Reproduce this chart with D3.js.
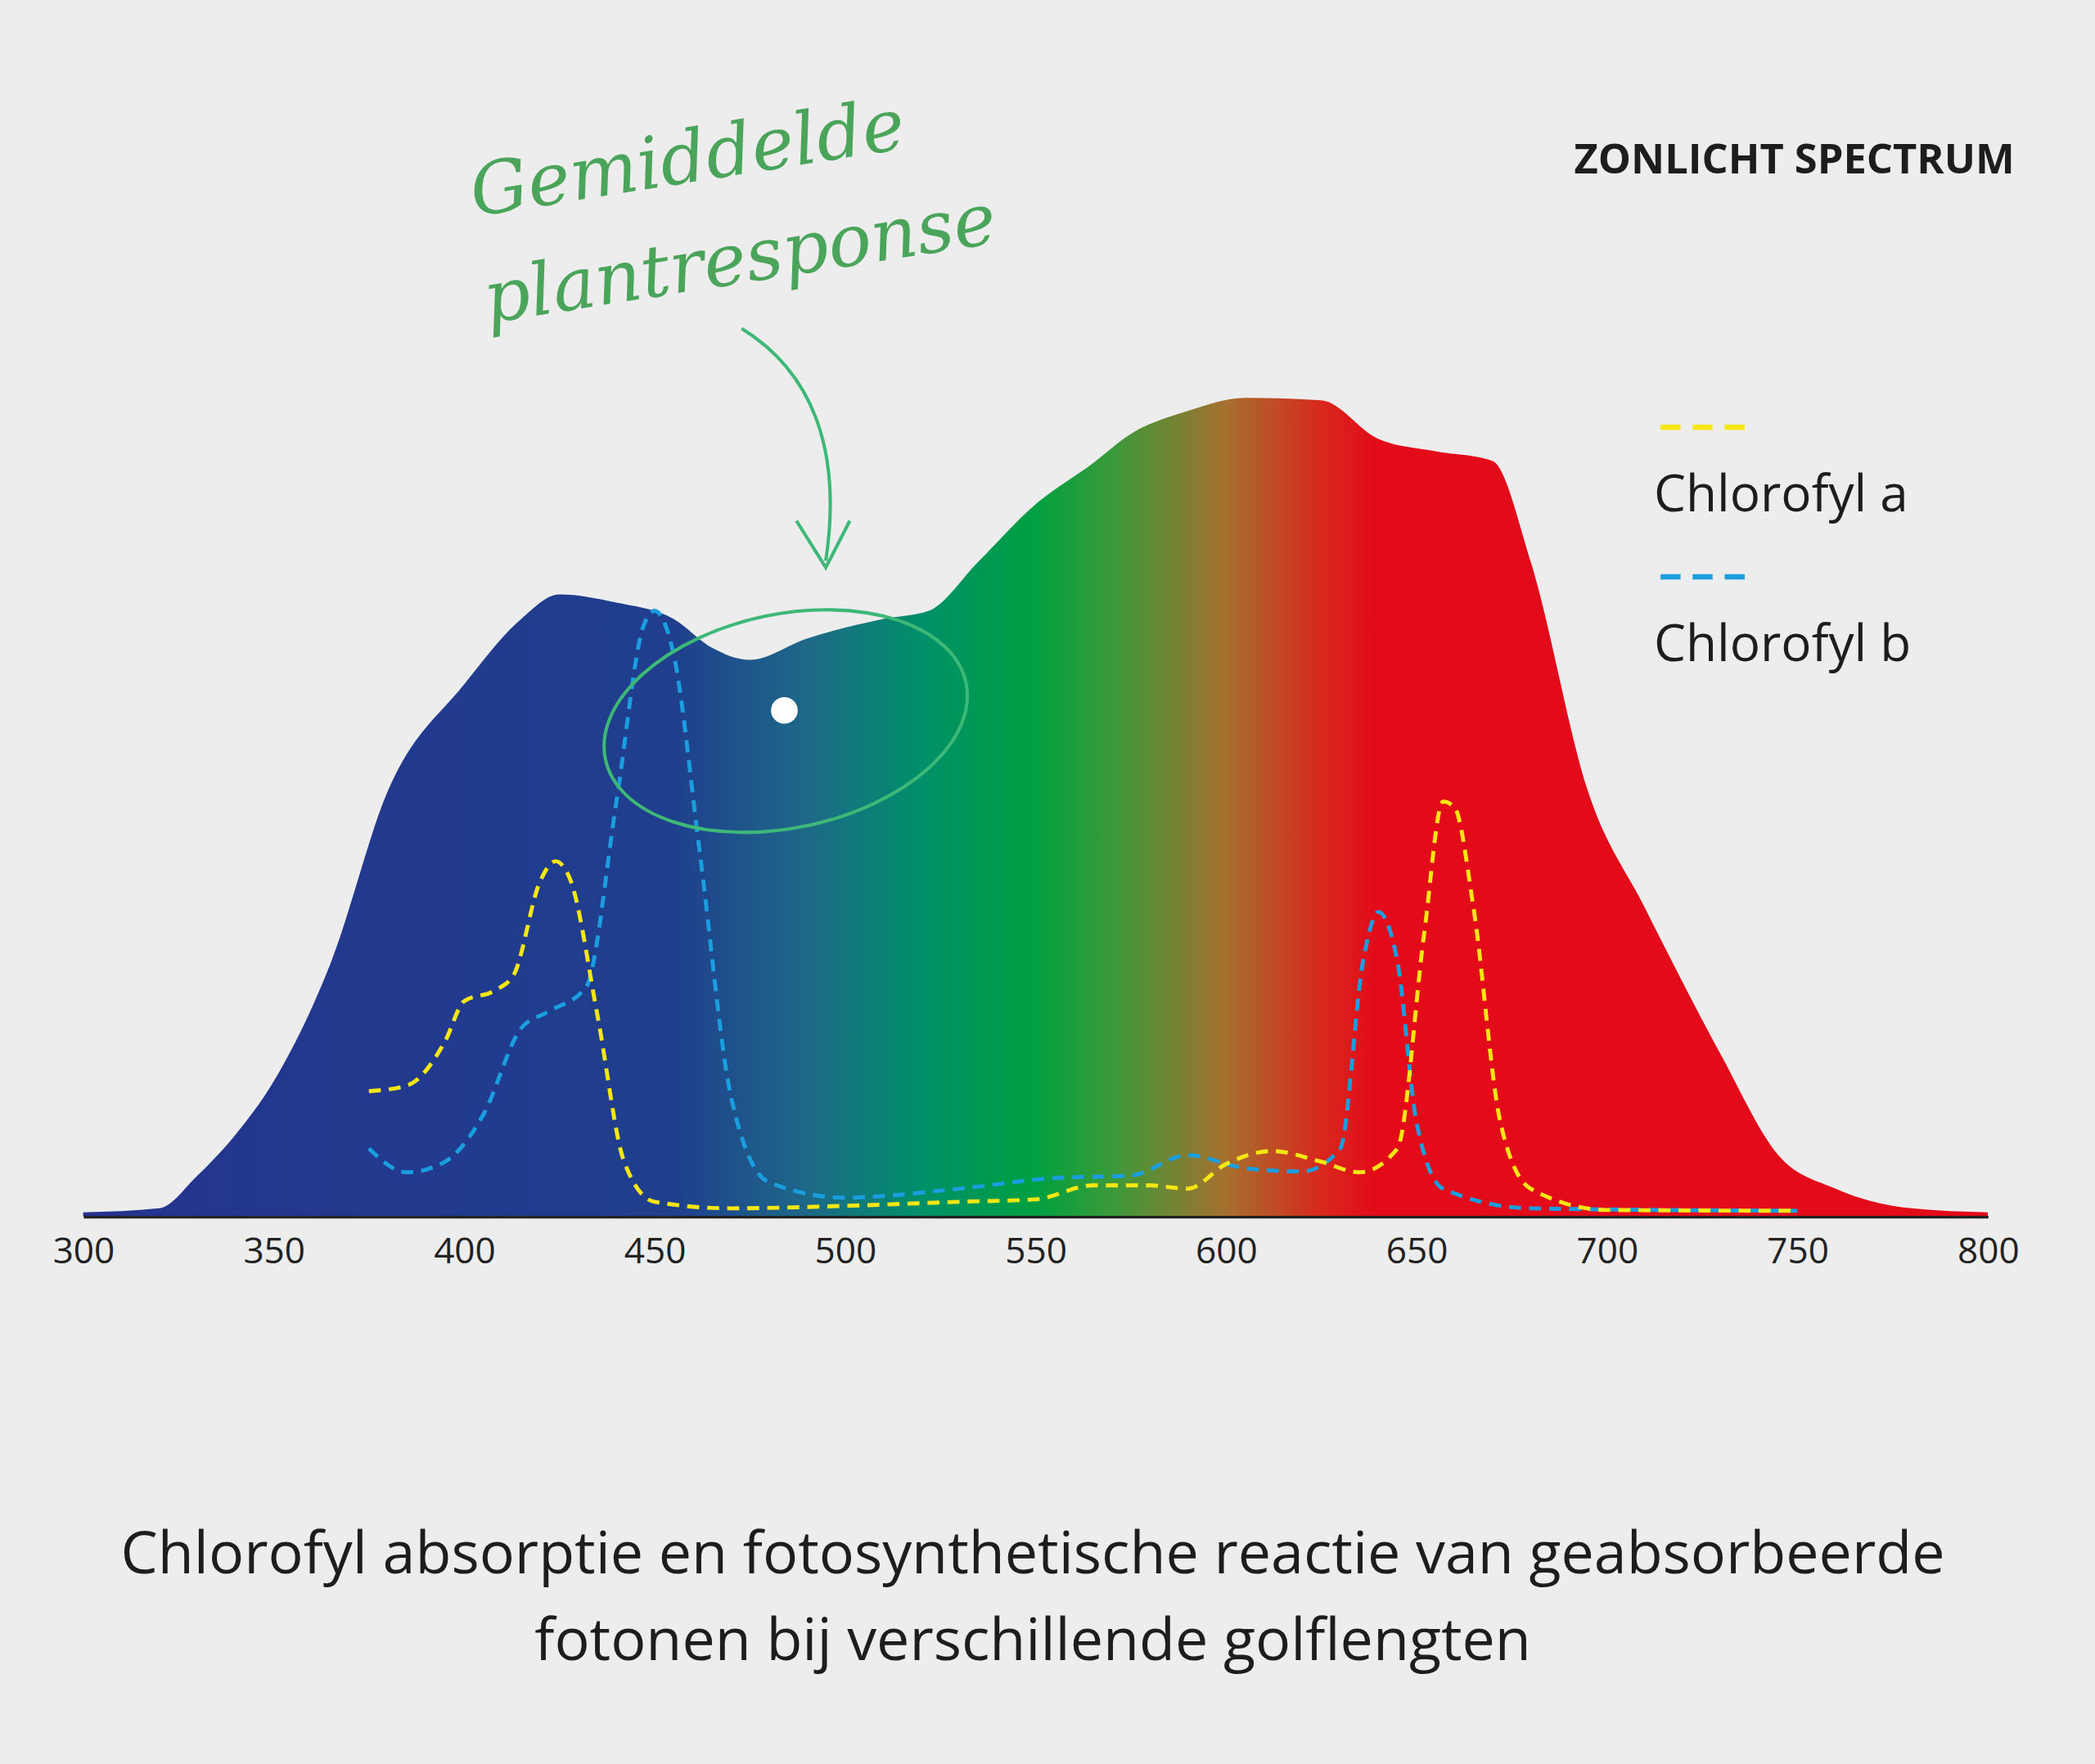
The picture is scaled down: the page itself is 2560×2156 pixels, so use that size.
<!DOCTYPE html>
<html><head><meta charset="utf-8">
<script src="https://cdn.jsdelivr.net/npm/d3@7/dist/d3.min.js"></script>
<style>body{margin:0;background:#ededed}svg{display:block}</style>
</head><body>
<svg id="chart" width="2560" height="2156" viewBox="0 0 1568 1321"></svg>
<script>
// zonlicht spectrum (relative, 0-100)
var sunWl  = [300,320,330,340,350,365,380,400,415,425,440,455,465,475,490,510,522,535,550,565,575,590,605,625,640,655,670,680,695,710,730,745,760,780,800];
var sunVal = [0.5,1,5,10,16.5,31,52,65,73,76,75,73,69.5,68,70.6,73,74,80,87,92,95.6,98.4,100,99.7,95,93.5,92.3,80,52,37.7,19.7,7.5,3.4,1,0.5];
var chlAWl  = [375,385,395,400,408,413,420,424,428,435,442,450,470,500,530,550,565,580,590,600,612,625,635,645,652,657,660,665,672,680,700,750];
var chlAVal = [15.3,16,21.4,26.3,27.6,29.5,41,43.4,41,24.6,6.7,1.8,1,1.3,1.8,2.1,3.8,3.8,3.4,6.4,8,6.7,5.4,8.3,34.4,50.7,50,37.7,11.6,3.4,0.8,0.7];
var chlBWl  = [375,385,395,405,415,422,432,440,447,450,455,462,470,480,500,530,555,575,590,605,620,630,636,640,645,650,657,680,750];
var chlBVal = [8.3,5.4,6.7,12.4,23,25,28,50.7,72,74,68.7,44,14.8,4.2,2.3,3.4,4.7,5,7.5,5.9,5.5,8.3,31.2,37.2,31.2,11.6,3.4,1,0.7];
var ticks = [300,350,400,450,500,550,600,650,700,750,800];
var gradStops = [[300,"#25338e"],[455,"#1f3f8d"],[490,"#1d6888"],[520,"#009069"],[550,"#00a040"],[570,"#3a9a3a"],[600,"#a6702e"],[625,"#d8281c"],[640,"#e30a1a"],[800,"#e30a1a"]];

var svg = d3.select("#chart");
var x = d3.scaleLinear().domain([300,800]).range([62,1488]);
var y = d3.scaleLinear().domain([0,100]).range([911,298]);

var grad = svg.append("defs").append("linearGradient").attr("id","spec")
	.attr("gradientUnits","userSpaceOnUse").attr("x1",x(300)).attr("x2",x(800)).attr("y1",0).attr("y2",0);
grad.selectAll("stop").data(gradStops).enter().append("stop")
	.attr("offset",function(d){return (d[0]-300)/500})
	.attr("stop-color",function(d){return d[1]});

var area = d3.area().x(function(d){return x(d[0])}).y0(y(0)).y1(function(d){return y(d[1])}).curve(d3.curveMonotoneX);
svg.append("path").datum(d3.zip(sunWl,sunVal)).attr("d",area).attr("fill","url(#spec)");

var line = d3.line().x(function(d){return x(d[0])}).y(function(d){return y(d[1])}).curve(d3.curveMonotoneX);
svg.append("path").datum(d3.zip(chlBWl,chlBVal)).attr("d",line)
	.attr("fill","none").attr("stroke","#1a9ee0").attr("stroke-width",3).attr("stroke-dasharray","9,6");
svg.append("path").datum(d3.zip(chlAWl,chlAVal)).attr("d",line)
	.attr("fill","none").attr("stroke","#f5e614").attr("stroke-width",3).attr("stroke-dasharray","9,6");

var ax = svg.append("g").attr("transform","translate(0,911)")
	.call(d3.axisBottom(x).tickValues(ticks).tickSize(0).tickPadding(16));
ax.select(".domain").attr("stroke","#222").attr("stroke-width",2);
ax.selectAll("text").attr("font-family","Open Sans").attr("font-size",27).attr("fill","#222");

// annotatie
var g = svg.append("g");
g.append("ellipse").attr("cx",588).attr("cy",540).attr("rx",138).attr("ry",80)
	.attr("transform","rotate(-12,588,540)").attr("fill","none").attr("stroke","#3db877").attr("stroke-width",2.5);
g.append("circle").attr("cx",587).attr("cy",532).attr("r",10).attr("fill","#fff");
g.append("path").attr("d","M555,246 C610,280 630,340 618,420").attr("fill","none").attr("stroke","#3db877").attr("stroke-width",2.5);
g.append("path").attr("d","M596,390 L618,425 L636,390").attr("fill","none").attr("stroke","#3db877").attr("stroke-width",2.5);
g.append("text").attr("transform","translate(355,162) rotate(-9)").text("Gemiddelde")
	.attr("font-family","DejaVu Serif").attr("font-style","italic").attr("font-size",54).attr("fill","#4aa55a");
g.append("text").attr("transform","translate(365,242) rotate(-9)").text("plantresponse")
	.attr("font-family","DejaVu Serif").attr("font-style","italic").attr("font-size",54).attr("fill","#4aa55a");

// titel en legenda
svg.append("text").attr("x",1508).attr("y",130).attr("text-anchor","end").text("ZONLICHT SPECTRUM")
	.attr("font-family","Open Sans").attr("font-weight","bold").attr("font-size",31).attr("fill","#1d1d1b");
[["#f5e614","Chlorofyl a",320],["#1a9ee0","Chlorofyl b",432]].forEach(function(l){
	svg.append("line").attr("x1",1243).attr("x2",1315).attr("y1",l[2]).attr("y2",l[2])
		.attr("stroke",l[0]).attr("stroke-width",4).attr("stroke-dasharray","15,9");
	svg.append("text").attr("x",1238).attr("y",l[2]+63).text(l[1])
		.attr("font-family","Open Sans").attr("font-size",38).attr("fill","#1d1d1b");
});

svg.selectAll("text.cap").data(["Chlorofyl absorptie en fotosynthetische reactie van geabsorbeerde","fotonen bij verschillende golflengten"])
	.enter().append("text").attr("class","cap").attr("x",773).attr("y",function(d,i){return 1178+i*65})
	.attr("text-anchor","middle").text(function(d){return d})
	.attr("font-family","Open Sans").attr("font-size",44).attr("fill","#1d1d1b");
</script>
</body></html>
